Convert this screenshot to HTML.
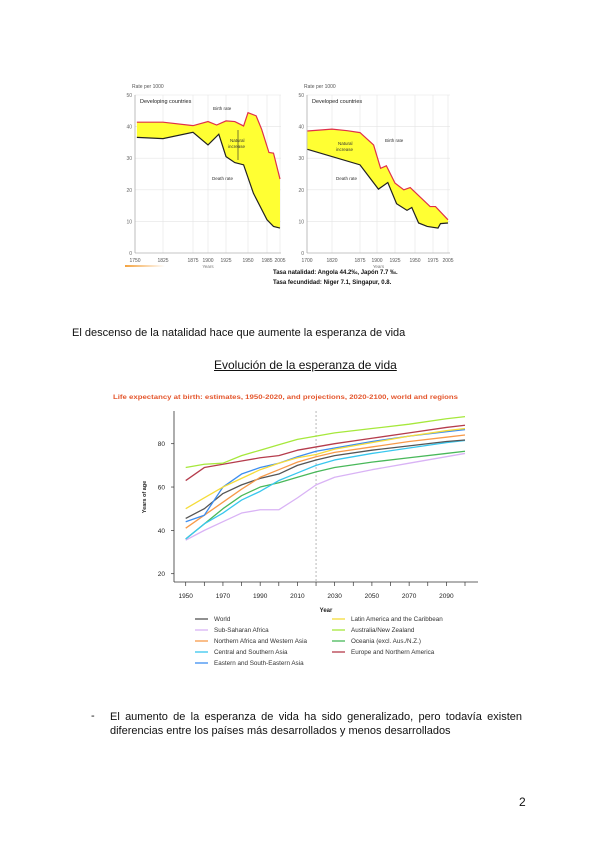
<!DOCTYPE html>
<html><head><meta charset="utf-8"><style>
html,body{margin:0;padding:0;background:#fff}
body{width:600px;height:848px;position:relative;overflow:hidden;font-family:"Liberation Sans",sans-serif}
.t{position:absolute;font-size:11px;color:#111;white-space:nowrap}
</style></head><body>
<svg id="svg" width="600" height="848" style="position:absolute;left:0;top:0" font-family="Liberation Sans, sans-serif"></svg>
<div class="t" style="left:72px;top:327px">El descenso de la natalidad hace que aumente la esperanza de vida</div>
<div class="t" style="left:214px;top:358px;font-size:12px;text-decoration:underline">Evolución de la esperanza de vida</div>
<div class="t" style="left:91px;top:710px">-</div>
<div class="t" style="left:110px;top:710px;line-height:14px;white-space:normal;width:412px;text-align:justify;text-align-last:left">El aumento de la esperanza de vida ha sido generalizado, pero todavía existen diferencias entre los países más desarrollados y menos desarrollados</div>
<div class="t" style="left:519px;top:795px;font-size:12px">2</div>
<script>
// ---- Chart A: developing countries ----
const devYears=[1755,1825,1875,1900,1912,1925,1935,1945,1950,1965,1975,1988,1995,2005];
const devBirth=[41.4,41.4,40.3,41.6,40.5,41.8,41.6,40.2,44.4,43.4,39.2,31.8,31.6,23.4];
const devDeathYears=[1755,1825,1875,1900,1915,1925,1935,1945,1960,1985,1995,2005];
const devDeath=[36.6,36.2,38.2,34.2,37.6,30.5,28.6,27.9,18.9,10.5,8.4,7.9];
const devTicks=[1750,1825,1875,1900,1925,1950,1985,2005];
// ---- Chart B: developed countries ----
const dvdYears=[1702,1820,1850,1875,1895,1905,1913,1925,1936,1944,1971,1980,2005];
const dvdBirth=[38.6,39.2,38.7,38.1,34.2,26.8,27.6,22.1,20,20.7,14.7,14.7,10.5];
const dvdDeathYears=[1702,1875,1902,1915,1927,1940,1946,1955,1967,1985,1990,2005];
const dvdDeath=[32.8,27.9,20.2,22.3,15.6,13.5,14.4,9.5,8.4,7.9,9.3,9.5];
const dvdTicks=[1700,1820,1875,1900,1925,1950,1975,2005];
const rateTicks=[0,10,20,30,40,50];
// ---- Chart C: life expectancy ----
const leYears=[1950,1960,1970,1980,1990,2000,2010,2020,2030,2050,2070,2090,2100];
const seriesNames=["World","Sub-Saharan Africa","Northern Africa and Western Asia","Central and Southern Asia","Eastern and South-Eastern Asia","Latin America and the Caribbean","Australia/New Zealand","Oceania (excl. Aus./N.Z.)","Europe and Northern America"];
const seriesColors=["#555555","#d9b3f5","#f79a4a","#39c7ee","#3d8ef0","#f5dc3a","#a6e83c","#49b85a","#b53c4c"];
const world=[45.5,50,57,61,64,66,70,72.5,74.5,77,79,81,81.7];
const ssa=[35.5,40,44,48,49.5,49.5,55,61,64.5,68,71,74,75.5];
const nawa=[41,47,53,59,64.5,68,71.5,74,76,78.5,81,83,84];
const csa=[36,43,48,54,58,63,66.5,70,72.5,75.5,78,80.5,81.5];
const esea=[44,47,60,66,69,71,74,76.5,78,81,83.5,85.5,86.5];
const lac=[50,55,60,64,68,71,73.5,75,77.5,80.5,83.5,86,87];
const anz=[69,70.5,71,74.5,77,79.5,82,83.5,85,87,89,91.5,92.5];
const oce=[36,43,50,56,60,62,64.5,67,69,71.5,73.5,75.5,76.5];
const ena=[63,69,70.5,72,73.5,74.5,77,78.5,80,82.5,85,87.5,88.5];
const leTicks=[20,40,60,80];
const xTickLabels=[1950,1970,1990,2010,2030,2050,2070,2090];

const NS="http://www.w3.org/2000/svg";
const svg=document.getElementById('svg');
function mk(tag,attrs,parent){const e=document.createElementNS(NS,tag);for(const k in attrs)e.setAttribute(k,attrs[k]);(parent||svg).appendChild(e);return e;}
function txt(x,y,s,attrs,parent){const e=mk('text',Object.assign({x:x,y:y},attrs),parent);e.textContent=s;return e;}
function interp(br,v){for(let i=0;i<br.length-1;i++){if(v<=br[i+1][0]||i==br.length-2){const a=br[i],b=br[i+1];return a[1]+(v-a[0])*(b[1]-a[1])/(b[0]-a[0]);}}}

function rateChart(name,title,years,birth,dyears,death,ticks,xb,x0,x1){
  const g=mk('g',{});
  
  
  const y0=253,yTop=95;
  const X=v=>interp(xb,v);
  const Y=v=>y0-(v/50)*(y0-yTop);
  rateTicks.forEach(t=>{mk('line',{x1:x0,x2:x1,y1:Y(t),y2:Y(t),stroke:'#e4e4e4','stroke-width':0.6},g);
    const l=txt(x0-3,Y(t)+2,t,{'font-size':5,fill:'#666','text-anchor':'end'},g);
    });
  ticks.forEach(t=>{mk('line',{x1:X(t),x2:X(t),y1:yTop,y2:y0,stroke:'#e4e4e4','stroke-width':0.6},g);
    const l=txt(X(t),262,t,{'font-size':5,fill:'#555','text-anchor':'middle'},g);
    });
  mk('line',{x1:x0,x2:x0,y1:yTop,y2:y0,stroke:'#999','stroke-width':0.6},g);
  mk('line',{x1:x0,x2:x1,y1:y0,y2:y0,stroke:'#999','stroke-width':0.6},g);
  const bp=years.map((y,i)=>X(y)+','+Y(birth[i]));
  const dp=dyears.map((y,i)=>X(y)+','+Y(death[i])).reverse();
  const area=mk('polygon',{points:bp.concat(dp).join(' '),fill:'#ffff33'},g);
  
  const bl=mk('polyline',{points:bp.join(' '),fill:'none',stroke:'#e0304a','stroke-width':1.2},g);
  
  const dl=mk('polyline',{points:dyears.map((y,i)=>X(y)+','+Y(death[i])).join(' '),fill:'none',stroke:'#222','stroke-width':1.2},g);
  
  const ax=txt(x0-3,88,'Rate per 1000',{'font-size':5,fill:'#555'},g);
  
  const tt=txt(x0+5,103,title,{'font-size':5.5,fill:'#222'},g);
  
  const yl=txt((x0+x1)/2,268,'Years',{'font-size':4.5,fill:'#777','text-anchor':'middle'},g);
  
  return {g,X,Y};
}
const A=rateChart('developing-countries-chart','Developing countries',devYears,devBirth,devDeathYears,devDeath,devTicks,
  [[1750,135],[1825,163],[1875,193],[1900,208],[1925,226],[1950,248],[1985,267],[2005,280]],135,281);
txt(213,110,'Birth rate',{'font-size':4.5,fill:'#333'},A.g);
txt(230,142,'Natural',{'font-size':4.5,fill:'#333'},A.g);
txt(228,148,'increase',{'font-size':4.5,fill:'#333'},A.g);
txt(212,180,'Death rate',{'font-size':4.5,fill:'#333'},A.g);
mk('line',{x1:238,x2:238,y1:130,y2:160,stroke:'#222','stroke-width':0.6},A.g);
const B=rateChart('developed-countries-chart','Developed countries',dvdYears,dvdBirth,dvdDeathYears,dvdDeath,dvdTicks,
  [[1700,307],[1820,332],[1875,360],[1900,377],[1925,395],[1950,415],[1975,433],[2005,448]],307,450);
txt(385,142,'Birth rate',{'font-size':4.5,fill:'#333'},B.g);
txt(338,145,'Natural',{'font-size':4.5,fill:'#333'},B.g);
txt(336,151,'increase',{'font-size':4.5,fill:'#333'},B.g);
txt(336,180,'Death rate',{'font-size':4.5,fill:'#333'},B.g);
const gr=mk('defs',{});
gr.innerHTML='<linearGradient id="og"><stop offset="0" stop-color="#f4a340"/><stop offset="1" stop-color="#fff"/></linearGradient>';
mk('rect',{x:125,y:265,width:40,height:2,fill:'url(#og)'});
const n1=txt(273,274,'Tasa natalidad: Angola 44.2‰, Japón 7.7 ‰.',{'font-size':6,'font-weight':'bold',fill:'#111'});

const n2=txt(273,284,'Tasa fecundidad: Niger 7.1, Singapur, 0.8.',{'font-size':6,'font-weight':'bold',fill:'#111'});


// ---- life expectancy chart ----
const C=mk('g',{});


const LX=y=>185.7+(y-1950)*(465-185.7)/150;
const LY=v=>443.7-(v-80)*(130/60);
const ct=txt(113,399,'Life expectancy at birth: estimates, 1950-2020, and projections, 2020-2100, world and regions',{'font-size':6.5,'font-weight':'bold',fill:'#e4572e',textLength:345,lengthAdjust:'spacingAndGlyphs'},C);

mk('line',{x1:174,x2:174,y1:411,y2:582,stroke:'#333','stroke-width':0.8},C);
mk('line',{x1:174,x2:478,y1:582,y2:582,stroke:'#333','stroke-width':0.8},C);
leTicks.forEach(t=>{mk('line',{x1:171,x2:174,y1:LY(t),y2:LY(t),stroke:'#333','stroke-width':0.7},C);
  const l=txt(165,LY(t)+2.5,t,{'font-size':6.5,fill:'#222','text-anchor':'end'},C);
  });
for(let y=1950;y<=2100;y+=10)mk('line',{x1:LX(y),x2:LX(y),y1:582,y2:586,stroke:'#333','stroke-width':0.7},C);
xTickLabels.forEach(t=>{const l=txt(LX(t),598,t,{'font-size':6.5,fill:'#222','text-anchor':'middle'},C);
  });
const xt=txt(326,612,'Year',{'font-size':6,'font-weight':'bold',fill:'#222','text-anchor':'middle'},C);

const yt=txt(0,0,'Years of age',{'font-size':5.5,'font-weight':'bold',fill:'#222','text-anchor':'middle',transform:'translate(146,497) rotate(-90)'},C);

mk('line',{x1:LX(2020),x2:LX(2020),y1:411,y2:582,stroke:'#999','stroke-width':0.7,'stroke-dasharray':'2,2'},C);
const allSeries=[world,ssa,nawa,csa,esea,lac,anz,oce,ena];
const drawOrder=[1,7,3,0,2,4,5,8,6];
drawOrder.forEach(i=>{
  const s=allSeries[i];
  const p=mk('polyline',{points:leYears.map((y,j)=>LX(y)+','+LY(s[j])).join(' '),fill:'none',stroke:seriesColors[i],'stroke-width':1.3,'stroke-linejoin':'round'},C);
  
  
});
const legPos=[[195,619],[195,630],[195,641],[195,652],[195,663],[332,619],[332,630],[332,641],[332,652]];
seriesNames.forEach((n,i)=>{
  const lg=mk('g',{},C);
  
  
  const [x,y]=legPos[i];
  mk('line',{x1:x,x2:x+13,y1:y,y2:y,stroke:seriesColors[i],'stroke-width':1.3},lg);
  txt(x+19,y+2.2,n,{'font-size':6.3,fill:'#333'},lg);
});
</script>
</body></html>
